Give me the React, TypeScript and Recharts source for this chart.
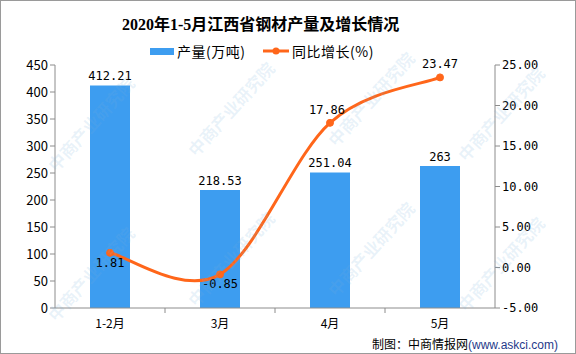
import React from "react";
import {
  ComposedChart,
  Bar,
  Line,
  XAxis,
  YAxis,
  LabelList,
} from "recharts";

const categories = ["1-2月", "3月", "4月", "5月"];
const output = [412.21, 218.53, 251.04, 263];
const growth = [1.81, -0.85, 17.86, 23.47];
const leftTicks = [0, 50, 100, 150, 200, 250, 300, 350, 400, 450];
const rightTicks = [-5, 0, 5, 10, 15, 20, 25];

const data = categories.map((name, i) => ({ name, output: output[i], growth: growth[i] }));

const BAR = "#3d9df0";
const LINE = "#ff661a";
const AXIS = "#8c8c8c";
const NUM_FONT = "'DejaVu Sans Mono', 'Liberation Mono', monospace";
const CJK = "'Noto Sans CJK SC', 'Noto Sans', sans-serif";

// office-style smoothed line (catmull-rom, 1/6 handles)
function smoothCurve(context: any) {
  let pts: number[][] = [];
  return {
    areaStart() {},
    areaEnd() {},
    lineStart() {
      pts = [];
    },
    point(x: number, y: number) {
      pts.push([+x, +y]);
    },
    lineEnd() {
      const n = pts.length;
      if (!n) return;
      context.moveTo(pts[0][0], pts[0][1]);
      for (let i = 0; i < n - 1; i++) {
        const p0 = pts[i - 1] || pts[i];
        const p1 = pts[i];
        const p2 = pts[i + 1];
        const p3 = pts[i + 2] || p2;
        context.bezierCurveTo(
          p1[0] + (p2[0] - p0[0]) / 6,
          p1[1] + (p2[1] - p0[1]) / 6,
          p2[0] - (p3[0] - p1[0]) / 6,
          p2[1] - (p3[1] - p1[1]) / 6,
          p2[0],
          p2[1]
        );
      }
    },
  };
}

function CatTick({ x, y, payload, index }: any) {
  return (
    <g>
      {index < categories.length - 1 && (
        <line x1={x + 55} x2={x + 55} y1={y - 8} y2={y - 3} stroke={AXIS} />
      )}
      <text x={x} y={y + 12} textAnchor="middle" fontSize={12} fontFamily={CJK} fill="#000">
        {payload.value}
      </text>
    </g>
  );
}

function GrowthLabel({ x, y, value, index }: any) {
  const below = index < 2;
  return (
    <text
      x={index === 2 ? x - 3 : x}
      y={below ? y + 14 : y - 9}
      textAnchor="middle"
      fontSize={12}
      fontFamily={NUM_FONT}
      fill="#000"
    >
      {value.toFixed(2)}
    </text>
  );
}

const marks = [
  [90, 120], [230, 105], [370, 95], [500, 110],
  [90, 270], [230, 255], [370, 245], [500, 260],
];

export default function App() {
  return (
    <div
      style={{
        position: "absolute",
        left: 0,
        top: 0,
        width: 576,
        height: 354,
        boxSizing: "border-box",
        border: "1px solid #9a9a9a",
        background: "#fff",
        overflow: "hidden",
      }}
    >
      <div
        style={{
          position: "absolute",
          top: 14,
          left: 121,
          whiteSpace: "nowrap",
          fontFamily: "'Liberation Serif', 'Noto Sans CJK SC', serif",
          fontWeight: "bold",
          fontSize: 16,
          color: "#000",
          lineHeight: "20px",
        }}
      >
        2020年1-5月江西省钢材产量及增长情况
      </div>
      <div
        style={{
          position: "absolute",
          top: 41,
          left: 149,
          display: "flex",
          alignItems: "center",
          fontFamily: CJK,
          fontSize: 14,
          color: "#000",
          lineHeight: "18px",
          whiteSpace: "nowrap",
        }}
      >
        <span style={{ display: "inline-block", width: 24, height: 7, background: BAR, marginRight: 3 }} />
        <span style={{ display: "inline-block", width: 86, letterSpacing: 0.5 }}>产量(万吨)</span>
        <svg width={26} height={10} style={{ marginRight: 3 }}>
          <line x1={0} x2={26} y1={5} y2={5} stroke={LINE} strokeWidth={3} />
          <circle cx={13} cy={5} r={3.5} fill={LINE} />
        </svg>
        <span style={{ letterSpacing: 0.5 }}>同比增长(%)</span>
      </div>
      <ComposedChart
        width={574}
        height={352}
        data={data}
        margin={{ top: 64, right: 0, left: 0, bottom: 15 }}
      >
        <XAxis
          dataKey="name"
          stroke={AXIS}
          tickLine={false}
          tick={<CatTick />}
          height={30}
          interval={0}
        />
        <YAxis
          yAxisId="left"
          domain={[0, 450]}
          ticks={leftTicks}
          width={54}
          stroke={AXIS}
          tickSize={5}
          tick={{ fontSize: 13, fill: "#000", fontFamily: CJK }}
          interval={0}
        />
        <YAxis
          yAxisId="right"
          orientation="right"
          domain={[-5, 25]}
          ticks={rightTicks}
          width={80}
          stroke={AXIS}
          tickSize={5}
          tickFormatter={(v: number) => v.toFixed(2)}
          tick={{ fontSize: 12, fill: "#000", fontFamily: NUM_FONT }}
          interval={0}
        />
        <Bar yAxisId="left" dataKey="output" fill={BAR} barSize={40} isAnimationActive={false}>
          <LabelList
            dataKey="output"
            position="top"
            offset={5}
            style={{ fontSize: 12, fontFamily: NUM_FONT, fill: "#000" }}
          />
        </Bar>
        <Line
          yAxisId="right"
          type={smoothCurve as any}
          dataKey="growth"
          stroke={LINE}
          strokeWidth={3}
          dot={{ r: 3.5, fill: LINE, stroke: LINE, strokeWidth: 1 }}
          isAnimationActive={false}
        >
          <LabelList dataKey="growth" content={<GrowthLabel />} />
        </Line>
      </ComposedChart>
      {marks.map(([x, y], i) => (
        <div
          key={i}
          style={{
            position: "absolute",
            left: x - 60,
            top: y - 10,
            transform: "rotate(-48deg)",
            fontFamily: CJK,
            fontSize: 17,
            fontWeight: "bold",
            color: "rgba(120,175,220,0.16)",
            whiteSpace: "nowrap",
            pointerEvents: "none",
          }}
        >
          中商产业研究院
        </div>
      ))}
      <div
        style={{
          position: "absolute",
          left: 371,
          top: 335,
          fontFamily: CJK,
          fontSize: 12,
          lineHeight: "16px",
          color: "#000",
          whiteSpace: "nowrap",
        }}
      >
        制图：中商情报网<span style={{ color: "#1f3a8a", fontFamily: "'Liberation Sans', sans-serif" }}>(www.askci.com)</span>
      </div>
    </div>
  );
}
